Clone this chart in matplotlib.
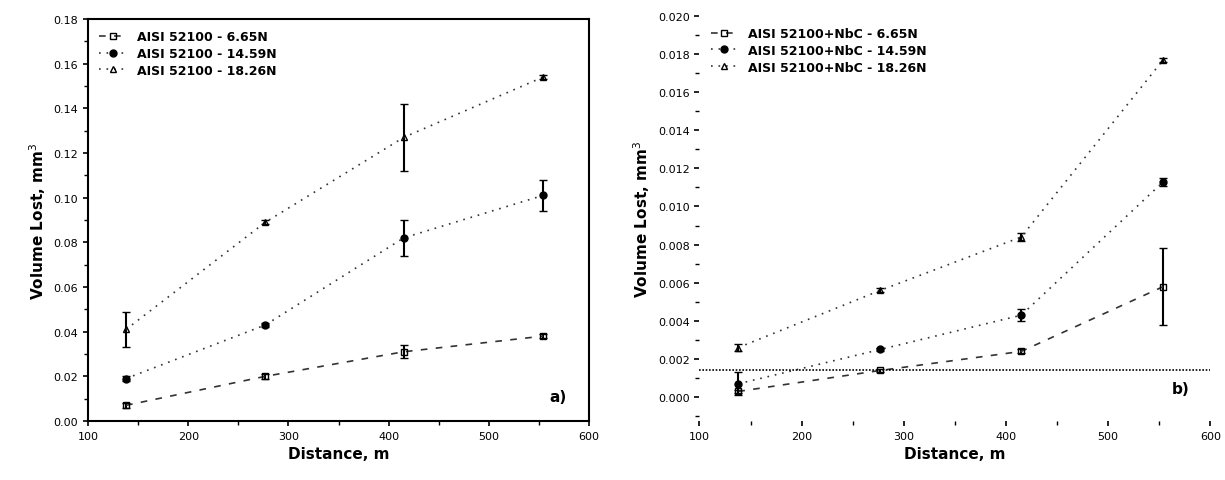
import matplotlib.pyplot as plt
from matplotlib.ticker import MultipleLocator, FormatStrFormatter

# sliding distances (m)
distance = [138, 277, 415, 554]

# a) AISI 52100
labels_a = ["AISI 52100 - 6.65N", "AISI 52100 - 14.59N", "AISI 52100 - 18.26N"]
vol_a_665 = [0.007, 0.020, 0.031, 0.038]
vol_a_1459 = [0.019, 0.043, 0.082, 0.101]
vol_a_1826 = [0.041, 0.089, 0.127, 0.154]
err_a_665 = [0.001, 0.001, 0.003, 0.001]
err_a_1459 = [0.001, 0.001, 0.008, 0.007]
err_a_1826 = [0.008, 0.001, 0.015, 0.001]

# b) AISI 52100 + NbC
labels_b = ["AISI 52100+NbC - 6.65N", "AISI 52100+NbC - 14.59N", "AISI 52100+NbC - 18.26N"]
vol_b_665 = [0.0003, 0.0014, 0.0024, 0.0058]
vol_b_1459 = [0.0007, 0.0025, 0.0043, 0.0113]
vol_b_1826 = [0.0026, 0.0056, 0.0084, 0.0177]
err_b_665 = [0.0001, 0.0001, 0.0001, 0.0020]
err_b_1459 = [0.0006, 0.0001, 0.0003, 0.0002]
err_b_1826 = [0.0002, 0.0001, 0.0002, 0.0001]
baseline_b = 0.0014

fig = plt.figure(figsize=(12.25, 4.81), dpi=100)
ax1 = fig.add_axes([0.0718, 0.1227, 0.4092, 0.8357])
ax2 = fig.add_axes([0.571, 0.1227, 0.417, 0.8423])

styles = [("s", "none", (0, (4, 5))), ("o", "black", (0, (1, 3.5))), ("^", "none", (0, (1, 3.5)))]


def draw(ax, series, errors, labels):
    for y, e, lab, (m, fc, ls) in zip(series, errors, labels, styles):
        ax.errorbar(distance, y, yerr=e, fmt="none", ecolor="black",
                    elinewidth=1.5, capsize=3)
        ax.plot(distance, y, color="#333333", marker=m, markersize=5,
                markerfacecolor=fc, markeredgecolor="black", linestyle=ls,
                linewidth=1.2, label=lab)
    ax.legend(loc="upper left", frameon=False, prop={"weight": "bold", "size": 9},
              handlelength=2.2, borderaxespad=0.4, labelspacing=0.3,
              borderpad=0.5, handletextpad=0.8)
    ax.set_xlim(100, 600)
    ax.xaxis.set_major_locator(MultipleLocator(100))
    ax.xaxis.set_minor_locator(MultipleLocator(50))
    ax.set_xlabel("Distance, m", fontsize=11, fontweight="bold")
    ax.set_ylabel("Volume Lost, mm$^3$", fontsize=11, fontweight="bold")
    ax.tick_params(labelsize=8, width=1.2)
    ax.tick_params(which="minor", width=1.0, length=3)


draw(ax1, [vol_a_665, vol_a_1459, vol_a_1826], [err_a_665, err_a_1459, err_a_1826], labels_a)
ax1.set_ylim(0, 0.18)
ax1.yaxis.set_major_locator(MultipleLocator(0.02))
ax1.yaxis.set_minor_locator(MultipleLocator(0.01))
ax1.yaxis.set_major_formatter(FormatStrFormatter("%.2f"))
for s in ax1.spines.values():
    s.set_linewidth(1.5)
ax1.text(0.955, 0.05, "a)", transform=ax1.transAxes, fontsize=11, fontweight="bold", ha="right")

draw(ax2, [vol_b_665, vol_b_1459, vol_b_1826], [err_b_665, err_b_1459, err_b_1826], labels_b)
ax2.axhline(baseline_b, color="black", linestyle=(0, (1, 1)), linewidth=1.2)
ax2.set_ylim(-0.00125, 0.020)
ax2.yaxis.set_major_locator(MultipleLocator(0.002))
ax2.yaxis.set_minor_locator(MultipleLocator(0.001))
ax2.yaxis.set_major_formatter(FormatStrFormatter("%.3f"))
for s in ax2.spines.values():
    s.set_visible(False)
ax2.text(0.96, 0.07, "b)", transform=ax2.transAxes, fontsize=11, fontweight="bold", ha="right")

fig.savefig("out.png", dpi=100)
